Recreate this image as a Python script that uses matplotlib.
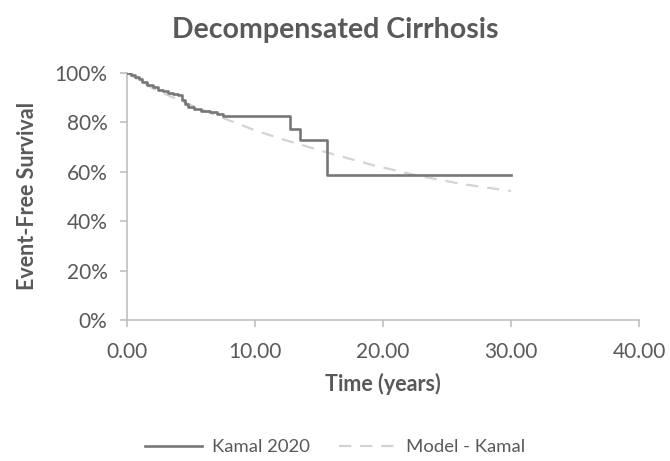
import matplotlib
matplotlib.use("Agg")
import matplotlib.pyplot as plt
from matplotlib.ticker import FuncFormatter, MultipleLocator

# Kamal 2020 Kaplan-Meier (step, post)
kamal_t = [0, 0.3, 0.6, 0.9, 1.2, 1.6, 2.0, 2.4, 2.8, 3.2, 3.6, 4.0, 4.3, 4.5, 4.8,
           5.2, 5.8, 6.5, 7.0, 7.5, 12.7, 13.5, 15.6, 30.0]
kamal_s = [100, 99.2, 98.5, 97.6, 96.5, 95.3, 94.2, 93.2, 92.6, 92.0, 91.5, 91.0, 89.0,
           87.3, 86.3, 85.5, 84.8, 84.2, 83.5, 82.4, 77.5, 73.0, 58.7, 58.7]

# Model - Kamal
model_t = [0, 2.2, 5.0, 6.9, 8.3, 10.0, 12.0, 15.5, 19.2, 22.5, 26.0, 30.0]
model_s = [100, 93.2, 87.0, 83.0, 80.2, 76.8, 73.4, 68.0, 62.7, 58.7, 55.2, 52.2]

title = "Decompensated Cirrhosis"
xlabel = "Time (years)"
ylabel = "Event-Free Survival"
labels = ["Kamal 2020", "Model - Kamal"]

plt.rcParams['font.family'] = ['Lato', 'DejaVu Sans']
txt = "#595959"

fig = plt.figure(figsize=(6.7, 4.61), dpi=100)
ax = fig.add_axes([127/670, 1-320/461, (639-127)/670, (320-73)/461])

ax.step(kamal_t, [s/100 for s in kamal_s], where='post',
        color="#777777", lw=1.9, label=labels[0], zorder=3)
ax.plot(model_t, [s/100 for s in model_s], color="#d3d3d3", lw=1.6,
        dashes=(5.5, 4), label=labels[1], zorder=2)

ax.set_xlim(0, 40)
ax.set_ylim(0, 1.0)
ax.xaxis.set_major_locator(MultipleLocator(10))
ax.yaxis.set_major_locator(MultipleLocator(0.2))
ax.xaxis.set_major_formatter(FuncFormatter(lambda v, p: f"{v:.2f}"))
ax.yaxis.set_major_formatter(FuncFormatter(lambda v, p: f"{v*100:.0f}%"))

for s in ['top', 'right']:
    ax.spines[s].set_visible(False)
for s in ['left', 'bottom']:
    ax.spines[s].set_color("#bfbfbf")
    ax.spines[s].set_linewidth(1.2)
ax.tick_params(axis='both', colors="#bfbfbf", labelcolor=txt, labelsize=15,
               length=5, width=1.2, direction='out')
ax.tick_params(axis='x', pad=11)
ax.tick_params(axis='y', pad=9)

ax.set_xlabel(xlabel, fontsize=15.5, fontweight='bold', color=txt)
ax.set_ylabel(ylabel, fontsize=15.5, fontweight='bold', color=txt)
ax.xaxis.set_label_coords((383-127)/512, (320-384)/247)
ax.yaxis.set_label_coords((28-127)/512, (320-196)/247)
ax.xaxis.label.set_va('center')
ax.yaxis.label.set_va('center')
fig.text(0.5, 1-30/461, title, ha='center', va='center', fontsize=20.5,
         fontweight='bold', color=txt)

leg = fig.legend(loc='center', bbox_to_anchor=(0.5, 1-447/461), ncol=2,
                 frameon=False, fontsize=13.3, handlelength=3.1, columnspacing=1.6,
                 handletextpad=0.5)
for t in leg.get_texts():
    t.set_color(txt)

fig.savefig("out.png", dpi=100)
